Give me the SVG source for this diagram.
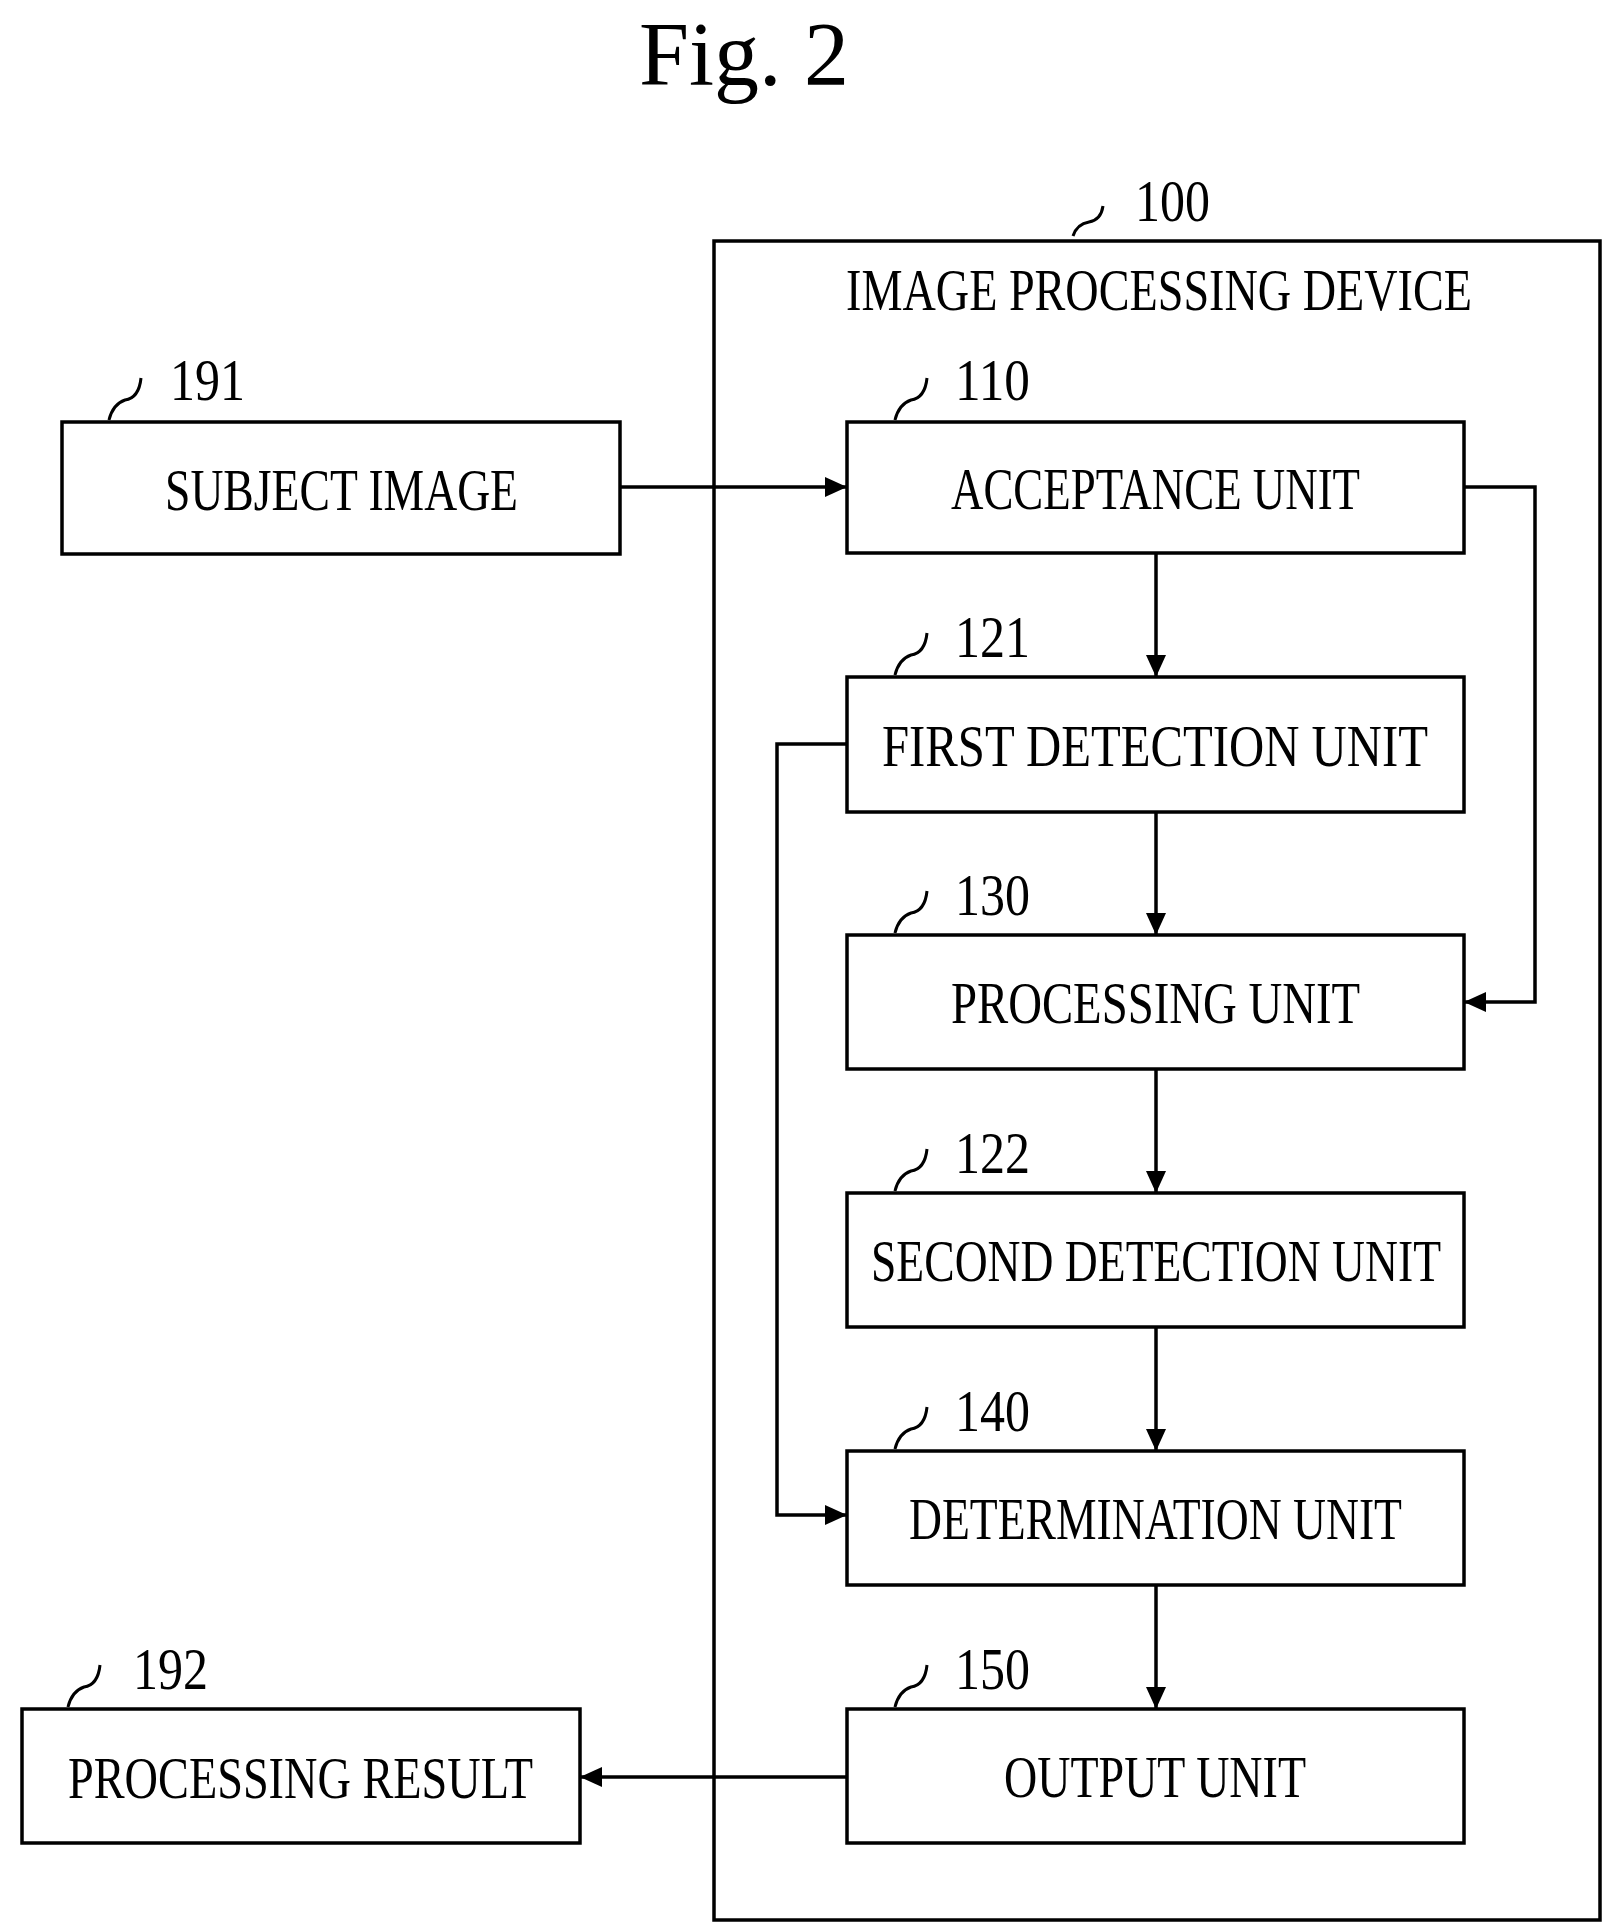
<svg xmlns="http://www.w3.org/2000/svg" width="1612" height="1932" viewBox="0 0 1612 1932" xml:space="preserve">
<style>
.box{fill:none;stroke:#000;stroke-width:3.5}
.t{font-family:"Liberation Serif",serif;font-size:60px;fill:#000}
.c{text-anchor:middle}
.ld{fill:none;stroke:#000;stroke-width:3}
.cn{fill:none;stroke:#000;stroke-width:3.5}
</style>
<defs><marker id="ar" markerWidth="22" markerHeight="20" refX="22" refY="10" orient="auto" markerUnits="userSpaceOnUse"><path d="M0,0 L22,10 L0,20 Z" fill="#000"/></marker></defs>
<rect width="1612" height="1932" fill="#fff"/>
<text x="744" y="85" class="t c" style="font-size:90px">Fig. 2</text>
<g id="n100"><rect class="box" x="714" y="241" width="886" height="1679"/>
<path class="ld" d="M1073,236 q4,-12 16,-14 q12,-2 14,-16"/><text class="t" x="1135" y="221" textLength="75" lengthAdjust="spacingAndGlyphs">100</text>
<text class="t" x="846" y="310" textLength="626" lengthAdjust="spacingAndGlyphs">IMAGE  PROCESSING  DEVICE</text></g>
<g id="n191"><rect class="box" x="62" y="422" width="558" height="132"/><path class="ld" d="M109,420 q4,-16 16,-20 q14,-2 16,-22"/><text class="t" x="170" y="400" textLength="75" lengthAdjust="spacingAndGlyphs">191</text><text class="t" x="165" y="510" textLength="353" lengthAdjust="spacingAndGlyphs">SUBJECT  IMAGE</text></g>
<g id="n192"><rect class="box" x="22" y="1709" width="558" height="134"/><path class="ld" d="M68,1707 q4,-16 16,-20 q14,-2 16,-22"/><text class="t" x="133" y="1689" textLength="75" lengthAdjust="spacingAndGlyphs">192</text><text class="t" x="68" y="1798" textLength="465" lengthAdjust="spacingAndGlyphs">PROCESSING  RESULT</text></g>
<g id="n110"><rect class="box" x="847" y="422" width="617" height="131"/><path class="ld" d="M895,420 q4,-16 16,-20 q14,-2 16,-22"/><text class="t" x="955" y="400" textLength="75" lengthAdjust="spacingAndGlyphs">110</text><text class="t" x="951" y="509" textLength="409" lengthAdjust="spacingAndGlyphs">ACCEPTANCE  UNIT</text></g>
<g id="n121"><rect class="box" x="847" y="677" width="617" height="135"/><path class="ld" d="M895,675 q4,-16 16,-20 q14,-2 16,-22"/><text class="t" x="955" y="657" textLength="75" lengthAdjust="spacingAndGlyphs">121</text><text class="t" x="882" y="766" textLength="546" lengthAdjust="spacingAndGlyphs">FIRST  DETECTION  UNIT</text></g>
<g id="n130"><rect class="box" x="847" y="935" width="617" height="134"/><path class="ld" d="M895,933 q4,-16 16,-20 q14,-2 16,-22"/><text class="t" x="955" y="915" textLength="75" lengthAdjust="spacingAndGlyphs">130</text><text class="t" x="951" y="1023" textLength="409" lengthAdjust="spacingAndGlyphs">PROCESSING  UNIT</text></g>
<g id="n122"><rect class="box" x="847" y="1193" width="617" height="134"/><path class="ld" d="M895,1191 q4,-16 16,-20 q14,-2 16,-22"/><text class="t" x="955" y="1173" textLength="75" lengthAdjust="spacingAndGlyphs">122</text><text class="t" x="871" y="1281" textLength="570" lengthAdjust="spacingAndGlyphs">SECOND  DETECTION  UNIT</text></g>
<g id="n140"><rect class="box" x="847" y="1451" width="617" height="134"/><path class="ld" d="M895,1449 q4,-16 16,-20 q14,-2 16,-22"/><text class="t" x="955" y="1431" textLength="75" lengthAdjust="spacingAndGlyphs">140</text><text class="t" x="909" y="1539" textLength="493" lengthAdjust="spacingAndGlyphs">DETERMINATION  UNIT</text></g>
<g id="n150"><rect class="box" x="847" y="1709" width="617" height="134"/><path class="ld" d="M895,1707 q4,-16 16,-20 q14,-2 16,-22"/><text class="t" x="955" y="1689" textLength="75" lengthAdjust="spacingAndGlyphs">150</text><text class="t" x="1004" y="1797" textLength="302" lengthAdjust="spacingAndGlyphs">OUTPUT  UNIT</text></g>
<g id="connectors">
<path class="cn" d="M620,487 H847" marker-end="url(#ar)"/>
<path class="cn" d="M1156,553 V677" marker-end="url(#ar)"/>
<path class="cn" d="M1156,812 V935" marker-end="url(#ar)"/>
<path class="cn" d="M1156,1069 V1193" marker-end="url(#ar)"/>
<path class="cn" d="M1156,1327 V1451" marker-end="url(#ar)"/>
<path class="cn" d="M1156,1585 V1709" marker-end="url(#ar)"/>
<path class="cn" d="M1464,487 H1535 V1002 H1464" marker-end="url(#ar)"/>
<path class="cn" d="M847,744 H777 V1515 H847" marker-end="url(#ar)"/>
<path class="cn" d="M847,1777 H580" marker-end="url(#ar)"/>
</g>
</svg>
